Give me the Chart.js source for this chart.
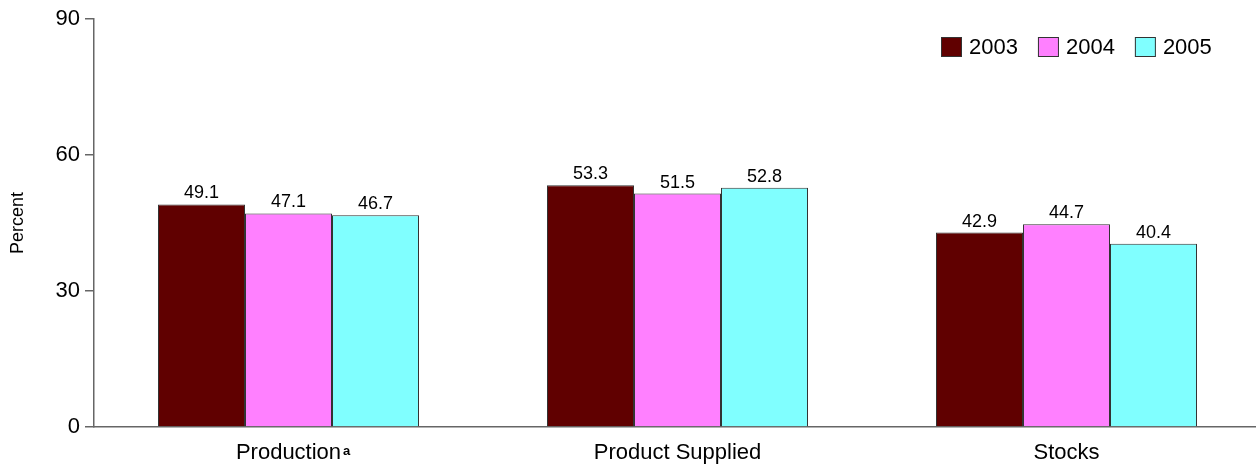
<!DOCTYPE html>
<html>
<head>
<meta charset="utf-8">
<script src="https://cdn.jsdelivr.net/npm/chart.js@4.4.1/dist/chart.umd.min.js"></script>
<style>
    html, body { margin: 0; padding: 0; background: #fff; overflow: hidden; }
    #wrap { width: 1261px; height: 468px; }
</style>
</head>
<body>
<div id="wrap"><canvas id="myChart" width="1261" height="468"></canvas></div>
<script>
    // Datos del gráfico
    var categorias = ['Production', 'Product Supplied', 'Stocks'];
    var anios = ['2003', '2004', '2005'];
    var valores2003 = [49.1, 53.3, 42.9];
    var valores2004 = [47.1, 51.5, 44.7];
    var valores2005 = [46.7, 52.8, 40.4];
    var ticksY = [0, 30, 60, 90];
    var colores = ['#600000', '#ff80ff', '#80ffff'];

    var fuente = "'Liberation Sans', Arial, sans-serif";
    var colorEje = '#666666';
    var colorBorde = '#333333';

    var data = {
        labels: categorias,
        datasets: [
            { label: anios[0], data: valores2003, backgroundColor: colores[0], borderColor: colorBorde, borderWidth: 1 },
            { label: anios[1], data: valores2004, backgroundColor: colores[1], borderColor: colorBorde, borderWidth: 1 },
            { label: anios[2], data: valores2005, backgroundColor: colores[2], borderColor: colorBorde, borderWidth: 1 }
        ]
    };

    // Etiquetas de valor encima de cada barra
    var etiquetasValor = {
        id: 'etiquetasValor',
        afterDatasetsDraw: function(chart) {
            var ctx = chart.ctx;
            ctx.save();
            ctx.font = '18px ' + fuente;
            ctx.fillStyle = '#000';
            ctx.textAlign = 'center';
            ctx.textBaseline = 'alphabetic';
            chart.data.datasets.forEach(function(ds, i) {
                chart.getDatasetMeta(i).data.forEach(function(bar, j) {
                    ctx.fillText(ds.data[j].toFixed(1), bar.x, bar.y - 6);
                });
            });
            ctx.restore();
        }
    };

    // Leyenda dibujada a mano (arriba a la derecha, dentro del área)
    var leyenda = {
        id: 'leyenda',
        afterDraw: function(chart) {
            var ctx = chart.ctx;
            ctx.save();
            ctx.font = '22px ' + fuente;
            ctx.textBaseline = 'middle';
            ctx.textAlign = 'left';
            var x = 941, y = 37;
            chart.data.datasets.forEach(function(ds) {
                ctx.fillStyle = ds.backgroundColor;
                ctx.fillRect(x, y, 21, 20);
                ctx.strokeStyle = colorBorde;
                ctx.lineWidth = 1;
                ctx.strokeRect(x + 0.5, y + 0.5, 20, 19);
                ctx.fillStyle = '#000';
                ctx.fillText(ds.label, x + 28, y + 11);
                x += 28 + ctx.measureText(ds.label).width + 20;
            });
            ctx.restore();
        }
    };

    // Superíndice "a" en "Production"
    var superindice = {
        id: 'superindice',
        afterDraw: function(chart) {
            var ctx = chart.ctx;
            var escala = chart.scales.x;
            ctx.save();
            ctx.font = '22px ' + fuente;
            var w = ctx.measureText(categorias[0]).width;
            var x = escala.getPixelForTick(0) + w / 2 + 2;
            ctx.font = 'bold 13px ' + fuente;
            ctx.fillStyle = '#000';
            ctx.textAlign = 'left';
            ctx.textBaseline = 'alphabetic';
            ctx.fillText('a', x, 455);
            ctx.restore();
        }
    };

    var options = {
        responsive: false,
        animation: false,
        layout: { padding: { top: 19, left: 0, right: 0, bottom: 0 } },
        datasets: {
            bar: {
                categoryPercentage: 0.671,
                barPercentage: 1
            }
        },
        plugins: {
            legend: { display: false },
            tooltip: { enabled: false }
        },
        scales: {
            x: {
                grid: { display: true, drawOnChartArea: false, drawTicks: false, color: colorEje },
                border: { display: true, color: colorEje, width: 1.5 },
                ticks: {
                    padding: 13,
                    color: '#000',
                    font: { family: fuente, size: 22 },
                    maxRotation: 0
                },
                afterFit: function(scale) { scale.height = 41; }
            },
            y: {
                min: 0,
                max: 90,
                grid: { display: true, drawOnChartArea: false, drawTicks: true, tickLength: 9, color: colorEje, lineWidth: 1.5 },
                border: { display: true, color: colorEje, width: 1.5 },
                ticks: {
                    padding: 5,
                    color: '#000',
                    font: { family: fuente, size: 22 }
                },
                afterBuildTicks: function(scale) {
                    scale.ticks = ticksY.map(function(v) { return { value: v }; });
                },
                title: {
                    display: true,
                    text: 'Percent',
                    color: '#000',
                    font: { family: fuente, size: 18 },
                    padding: { top: 7, bottom: 0 }
                },
                afterFit: function(scale) { scale.width = 94; }
            }
        }
    };

    var ctx = document.getElementById('myChart').getContext('2d');
    var myChart = new Chart(ctx, {
        type: 'bar',
        data: data,
        options: options,
        plugins: [etiquetasValor, leyenda, superindice]
    });
</script>
</body>
</html>
